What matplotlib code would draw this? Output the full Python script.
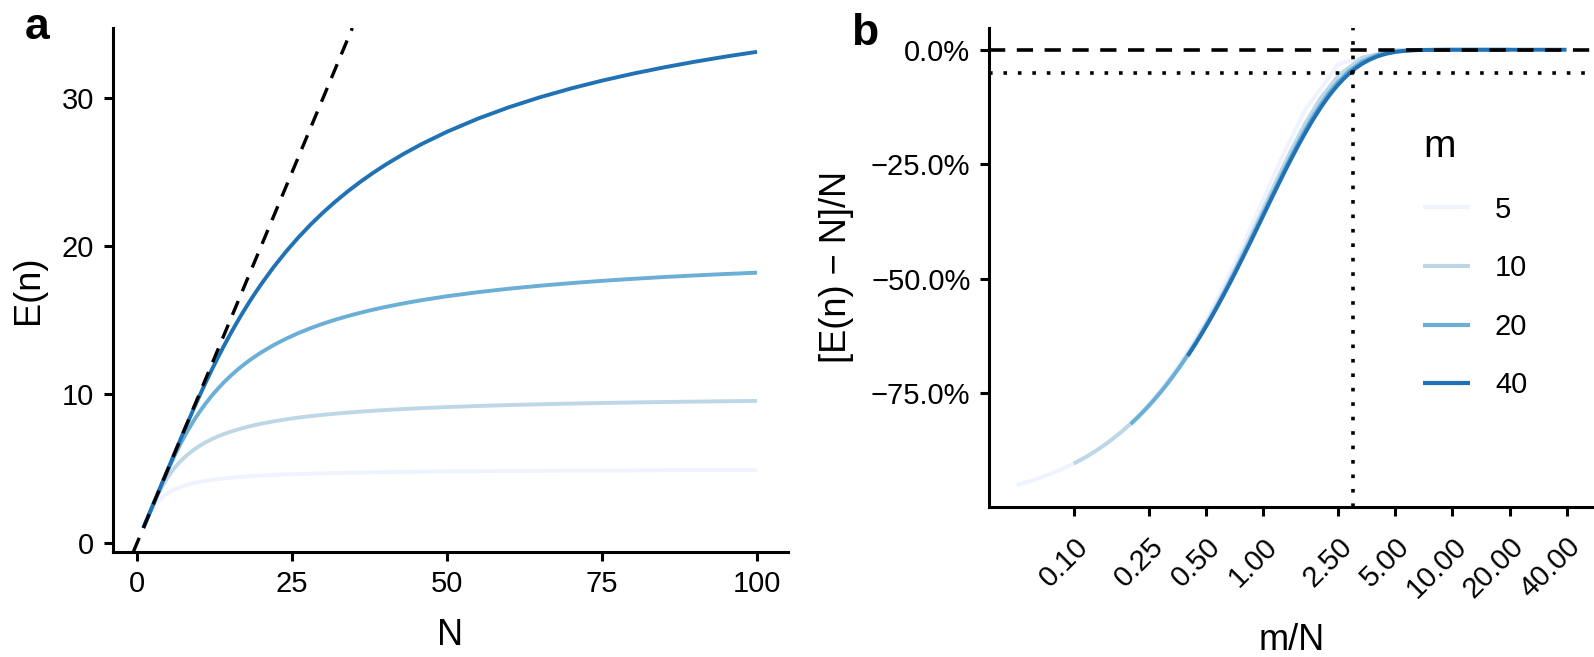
import numpy as np
import matplotlib.pyplot as plt
from matplotlib.ticker import PercentFormatter, FixedLocator, NullLocator

plt.rcParams['font.family'] = ['Liberation Sans', 'DejaVu Sans']

# expected number of distinct values E(n)
N = np.array([1, 2, 3, 4, 5, 6, 7, 8, 9, 10, 11, 12, 13, 14, 15, 16, 17, 18, 19, 20,
              22, 24, 26, 28, 30, 32, 34, 36, 38, 40,
              43, 46, 50, 55, 60, 65, 70, 75, 80, 85, 90, 95, 100])
E_m5 = [1.000, 1.938, 2.605, 3.051, 3.362, 3.589, 3.761, 3.897, 4.006, 4.095,
        4.170, 4.233, 4.288, 4.335, 4.376, 4.413, 4.445, 4.475, 4.501, 4.524,
        4.566, 4.600, 4.630, 4.655, 4.678, 4.697, 4.714, 4.730, 4.744, 4.756,
        4.773, 4.787, 4.804, 4.822, 4.836, 4.849, 4.859, 4.868, 4.877, 4.884,
        4.890, 4.896, 4.901]
E_m10 = [1.000, 1.998, 2.948, 3.775, 4.463, 5.031, 5.502, 5.895, 6.229, 6.513,
         6.759, 6.973, 7.161, 7.328, 7.476, 7.609, 7.728, 7.837, 7.935, 8.025,
         8.184, 8.319, 8.435, 8.537, 8.626, 8.705, 8.775, 8.838, 8.895, 8.947,
         9.016, 9.076, 9.146, 9.220, 9.282, 9.336, 9.381, 9.421, 9.456, 9.487,
         9.515, 9.539, 9.562]
E_m20 = [1.000, 2.000, 2.999, 3.987, 4.942, 5.844, 6.679, 7.446, 8.147, 8.784,
         9.365, 9.894, 10.378, 10.820, 11.226, 11.599, 11.943, 12.262, 12.556, 12.830,
         13.323, 13.754, 14.134, 14.471, 14.772, 15.042, 15.285, 15.507, 15.708, 15.893,
         16.141, 16.362, 16.620, 16.895, 17.129, 17.330, 17.505, 17.658, 17.794, 17.915,
         18.023, 18.121, 18.209]
E_m40 = [1.000, 2.000, 3.000, 4.000, 4.999, 5.996, 6.985, 7.962, 8.919, 9.852,
         10.757, 11.631, 12.471, 13.278, 14.050, 14.790, 15.496, 16.171, 16.815, 17.430,
         18.578, 19.626, 20.585, 21.463, 22.270, 23.013, 23.699, 24.334, 24.923, 25.471,
         26.224, 26.904, 27.715, 28.600, 29.368, 30.040, 30.632, 31.159, 31.630, 32.054,
         32.437, 32.785, 33.103]

m_values = [5, 10, 20, 40]
E_series = [E_m5, E_m10, E_m20, E_m40]
colors = ['#eff3ff', '#bdd7e7', '#6baed6', '#2171b5']

xticks_b = [0.1, 0.25, 0.5, 1, 2.5, 5, 10, 20, 40]
yticks_b = [0, -0.25, -0.5, -0.75]
threshold = -0.05   # 5% error line
ratio_at_threshold = 3.0

LW = 2.8
DASH = (0, (4.5, 3.2))
DOT = (0, (1, 3))
TICK_FS = 21
TITLE_FS = 26

fig = plt.figure(figsize=(15.94, 6.57), dpi=100)
ax1 = fig.add_axes([0.0707, 0.1603, 0.4235, 0.7971])
ax2 = fig.add_axes([0.6206, 0.2288, 0.3794, 0.7286])

# ---- panel a
for m, E, c in zip(m_values, E_series, colors):
    ax1.plot(N, E, color=c, lw=LW, solid_capstyle='butt', label=str(m))
ax1.axline((0, 0), slope=1, color='black', lw=2.4, linestyle=DASH)

span = N.max() - N.min()
ax1.set_xlim(N.min() - 0.05 * span, N.max() + 0.05 * span)
ymax = max(max(E) for E in E_series)
ymin = min(min(E) for E in E_series)
ax1.set_ylim(ymin - 0.05 * (ymax - ymin), ymax + 0.05 * (ymax - ymin))
ax1.set_xticks([0, 25, 50, 75, 100])
ax1.set_yticks([0, 10, 20, 30])
ax1.set_xlabel('N', fontsize=TITLE_FS, labelpad=14)
ax1.set_ylabel('E(n)', fontsize=TITLE_FS, labelpad=11)

# ---- panel b
for m, E, c in zip(m_values, E_series, colors):
    E = np.asarray(E)
    ax2.plot(m / N, (E - N) / N, color=c, lw=LW, solid_capstyle='butt', label=str(m))
ax2.set_xscale('log')
ax2.axhline(0, color='black', lw=2.6, linestyle=DASH)
ax2.axhline(threshold, color='black', lw=2.6, linestyle=DOT)
ax2.axvline(ratio_at_threshold, color='black', lw=2.6, linestyle=DOT)
ax2.margins(x=0.05, y=0.05)
ax2.xaxis.set_major_locator(FixedLocator(xticks_b))
ax2.xaxis.set_minor_locator(NullLocator())
ax2.set_xticklabels(['%.2f' % v for v in xticks_b], rotation=45,
                    ha='right', va='top', rotation_mode='anchor')
ax2.set_yticks(yticks_b)
ax2.yaxis.set_major_formatter(PercentFormatter(xmax=1, decimals=1))
ax2.set_xlabel('m/N', fontsize=TITLE_FS, labelpad=14)
ax2.set_ylabel('[E(n) \u2212 N]/N', fontsize=TITLE_FS, labelpad=12)

leg = ax2.legend(title='m', loc='upper left', bbox_to_anchor=(0.718, 0.789),
                 frameon=False, fontsize=TICK_FS, title_fontsize=28,
                 handlelength=1.6, handletextpad=0.85, labelspacing=1.05,
                 borderpad=0, borderaxespad=0)
leg._legend_box.align = 'left'
for h in leg.get_lines():
    h.set_linewidth(3)

for ax in (ax1, ax2):
    for s in ('top', 'right'):
        ax.spines[s].set_visible(False)
    for s in ('left', 'bottom'):
        ax.spines[s].set_linewidth(2.2)
    ax.tick_params(direction='out', length=6.5, width=2.2, labelsize=TICK_FS,
                   pad=7, colors='black')
ax2.tick_params(axis='x', pad=12)

fig.text(0.0157, 0.989, 'a', fontsize=32, fontweight='bold', va='top')
fig.text(0.534, 0.980, 'b', fontsize=32, fontweight='bold', va='top')

fig.savefig('out.png', dpi=100)
